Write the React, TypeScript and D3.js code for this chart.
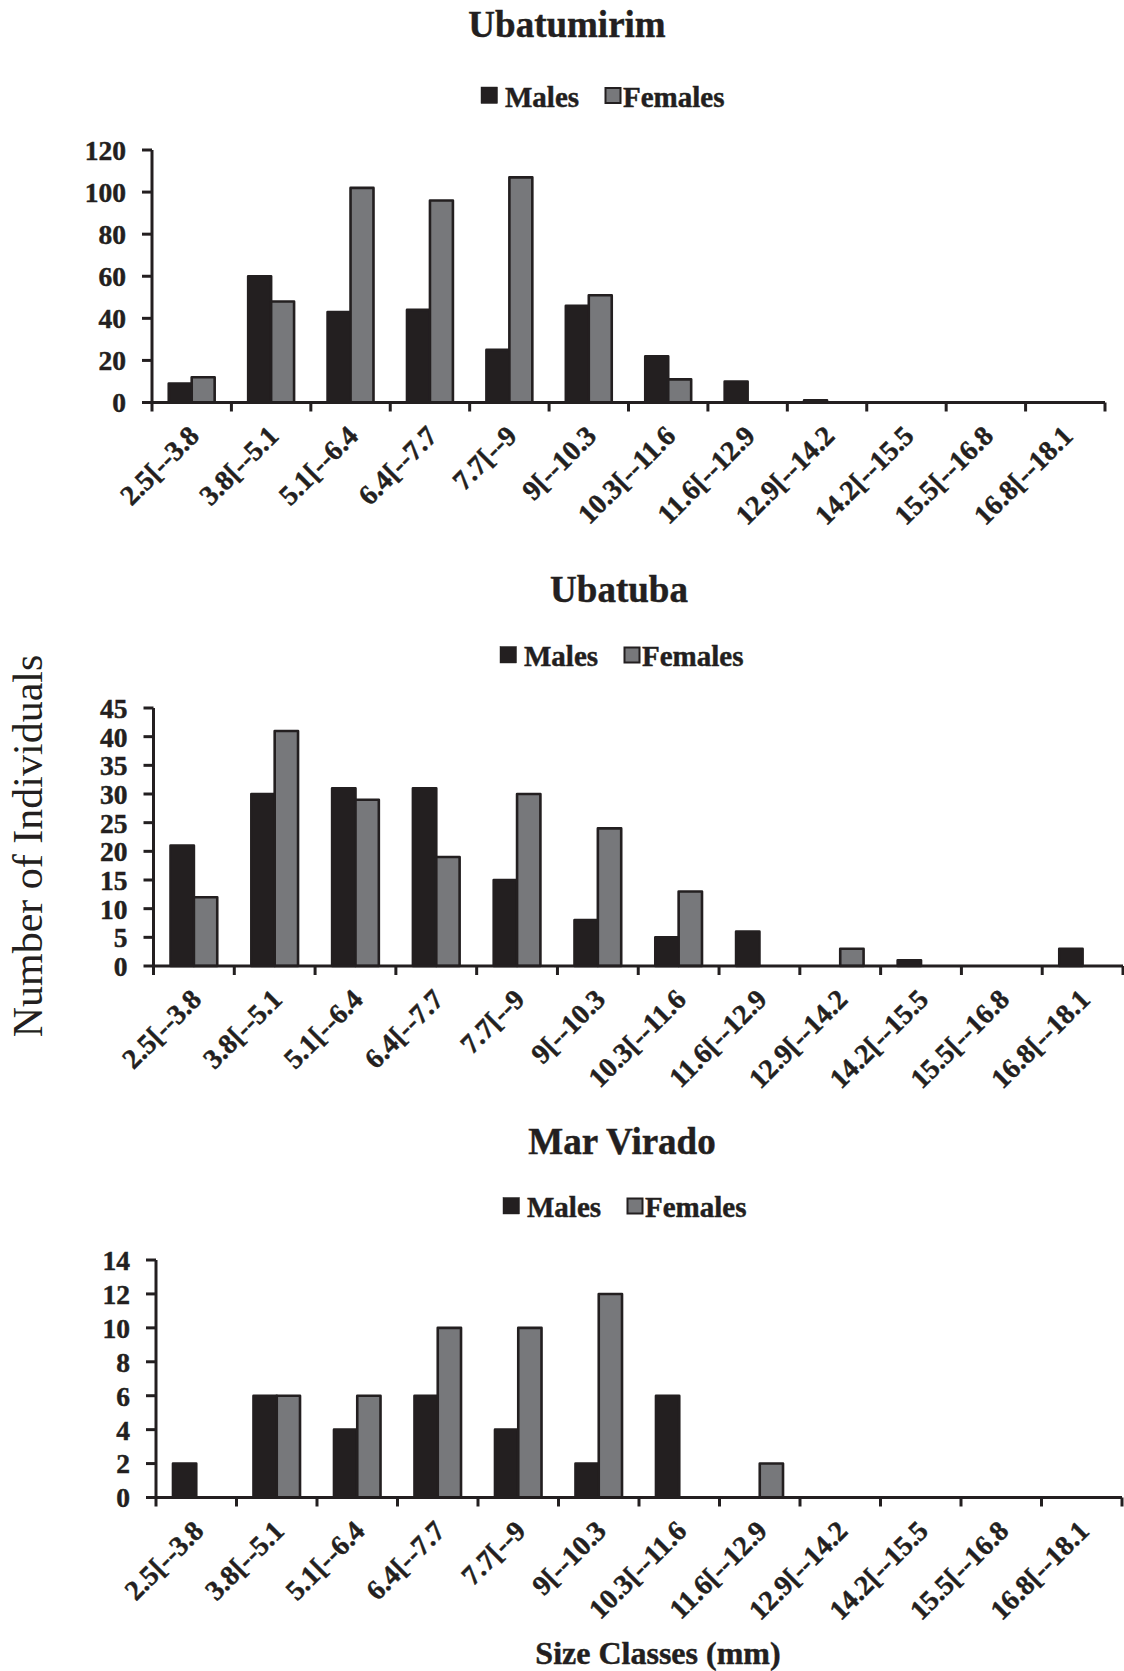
import React from "react";
import * as d3 from "d3";

// Size classes (mm), shared by all three sites
const categories = [
  "2.5[--3.8",
  "3.8[--5.1",
  "5.1[--6.4",
  "6.4[--7.7",
  "7.7[--9",
  "9[--10.3",
  "10.3[--11.6",
  "11.6[--12.9",
  "12.9[--14.2",
  "14.2[--15.5",
  "15.5[--16.8",
  "16.8[--18.1",
];

const seriesNames = ["Males", "Females"];

// Ubatumirim counts per size class
const ubatumirimMales = [9, 60, 43, 44, 25, 46, 22, 10, 1, 0, 0, 0];
const ubatumirimFemales = [12, 48, 102, 96, 107, 51, 11, 0, 0, 0, 0, 0];
const ubatumirimTicks = [0, 20, 40, 60, 80, 100, 120];

// Ubatuba counts per size class
const ubatubaMales = [21, 30, 31, 31, 15, 8, 5, 6, 0, 1, 0, 3];
const ubatubaFemales = [12, 41, 29, 19, 30, 24, 13, 0, 3, 0, 0, 0];
const ubatubaTicks = [0, 5, 10, 15, 20, 25, 30, 35, 40, 45];

// Mar Virado counts per size class
const marViradoMales = [2, 6, 4, 6, 4, 2, 6, 0, 0, 0, 0, 0];
const marViradoFemales = [0, 6, 6, 10, 10, 12, 0, 2, 0, 0, 0, 0];
const marViradoTicks = [0, 2, 4, 6, 8, 10, 12, 14];

const INK = "#231f20";
const GREY = "#77787b";
const FONT = "'Liberation Serif', 'Times New Roman', Times, serif";

const panels = [
  {
    title: "Ubatumirim",
    males: ubatumirimMales,
    females: ubatumirimFemales,
    ticks: ubatumirimTicks,
    titleX: 567,
    titleY: 37,
    legendX: 481,
    legendY: 106.5,
    left: 152,
    right: 1105,
    top: 150,
    bottom: 402.5,
  },
  {
    title: "Ubatuba",
    males: ubatubaMales,
    females: ubatubaFemales,
    ticks: ubatubaTicks,
    titleX: 619,
    titleY: 602,
    legendX: 500,
    legendY: 666,
    left: 153.5,
    right: 1123,
    top: 708,
    bottom: 966,
  },
  {
    title: "Mar Virado",
    males: marViradoMales,
    females: marViradoFemales,
    ticks: marViradoTicks,
    titleX: 622,
    titleY: 1154,
    legendX: 503,
    legendY: 1217,
    left: 156,
    right: 1122,
    top: 1260,
    bottom: 1497.5,
  },
];

type Panel = (typeof panels)[number];

// heavy bold text, slightly stroked so it reads as dark as a printed figure
const boldText = {
  fontFamily: FONT,
  fontWeight: "bold" as const,
  fill: INK,
  stroke: INK,
  strokeWidth: 0.45,
};

function Histogram({ p }: { p: Panel }) {
  const x = d3
    .scaleBand<string>()
    .domain(categories)
    .range([p.left, p.right])
    .paddingInner(0)
    .paddingOuter(0);
  const inner = d3
    .scaleBand<string>()
    .domain(seriesNames)
    .range([0, x.bandwidth()])
    .paddingInner(0)
    .paddingOuter(0.73);
  const yMax = p.ticks[p.ticks.length - 1];
  const y = d3.scaleLinear().domain([0, yMax]).range([p.bottom, p.top]);

  const boundaries = categories.map((c) => x(c) as number).concat([p.right]);

  const series = [
    { name: "Males", values: p.males, fill: INK },
    { name: "Females", values: p.females, fill: GREY },
  ];

  return (
    <g>
      {/* site title */}
      <text x={p.titleX} y={p.titleY} textAnchor="middle" fontSize={37} {...boldText}>
        {p.title}
      </text>

      {/* legend */}
      <g fontSize={29} {...boldText}>
        <rect x={p.legendX} y={p.legendY - 19.5} width={16.5} height={16.5} fill={INK} />
        <text x={p.legendX + 24} y={p.legendY}>
          Males
        </text>
        <rect
          x={p.legendX + 124.5}
          y={p.legendY - 18.5}
          width={15}
          height={15}
          fill={GREY}
          stroke={INK}
          strokeWidth={2}
        />
        <text x={p.legendX + 142} y={p.legendY}>
          Females
        </text>
      </g>

      {/* bars */}
      {series.map((s) =>
        s.values.map((v, i) =>
          v > 0 ? (
            <rect
              key={s.name + i}
              x={(x(categories[i]) as number) + (inner(s.name) as number)}
              y={y(v)}
              width={inner.bandwidth()}
              height={y(0) - y(v)}
              fill={s.fill}
              stroke={INK}
              strokeWidth={2.6}
              strokeLinejoin="round"
            />
          ) : null
        )
      )}

      {/* y axis */}
      <line x1={p.left} x2={p.left} y1={p.top} y2={p.bottom} stroke={INK} strokeWidth={3} />
      {p.ticks.map((t) => (
        <g key={t}>
          <line x1={p.left - 10} x2={p.left} y1={y(t)} y2={y(t)} stroke={INK} strokeWidth={3} />
          <text
            x={p.left - 26}
            y={y(t)}
            dy="0.36em"
            textAnchor="end"
            fontSize={27.5}
            {...boldText}
          >
            {t}
          </text>
        </g>
      ))}

      {/* x axis */}
      <line x1={p.left} x2={p.right} y1={p.bottom} y2={p.bottom} stroke={INK} strokeWidth={3.2} />
      {boundaries.map((b, i) => (
        <line key={i} x1={b} x2={b} y1={p.bottom} y2={p.bottom + 9} stroke={INK} strokeWidth={3} />
      ))}
      {categories.map((c) => {
        const cx = (x(c) as number) + x.bandwidth() / 2 + 9;
        const cy = p.bottom + 35;
        return (
          <text
            key={c}
            transform={`translate(${cx},${cy}) rotate(-45)`}
            textAnchor="end"
            fontSize={28}
            {...boldText}
          >
            {c}
          </text>
        );
      })}
    </g>
  );
}

export default function App() {
  return (
    <svg
      width={1124}
      height={1671}
      viewBox="0 0 1124 1671"
      style={{ position: "absolute", left: 0, top: 0, background: "#fff" }}
    >
      <rect x={0} y={0} width={1124} height={1671} fill="#fff" />
      {panels.map((p) => (
        <Histogram key={p.title} p={p} />
      ))}
      <text
        transform="translate(42,846) rotate(-90)"
        textAnchor="middle"
        fontFamily={FONT}
        fontSize={42}
        fill={INK}
      >
        Number of Individuals
      </text>
      <text x={658} y={1664} textAnchor="middle" fontSize={32} {...boldText}>
        Size Classes (mm)
      </text>
    </svg>
  );
}
